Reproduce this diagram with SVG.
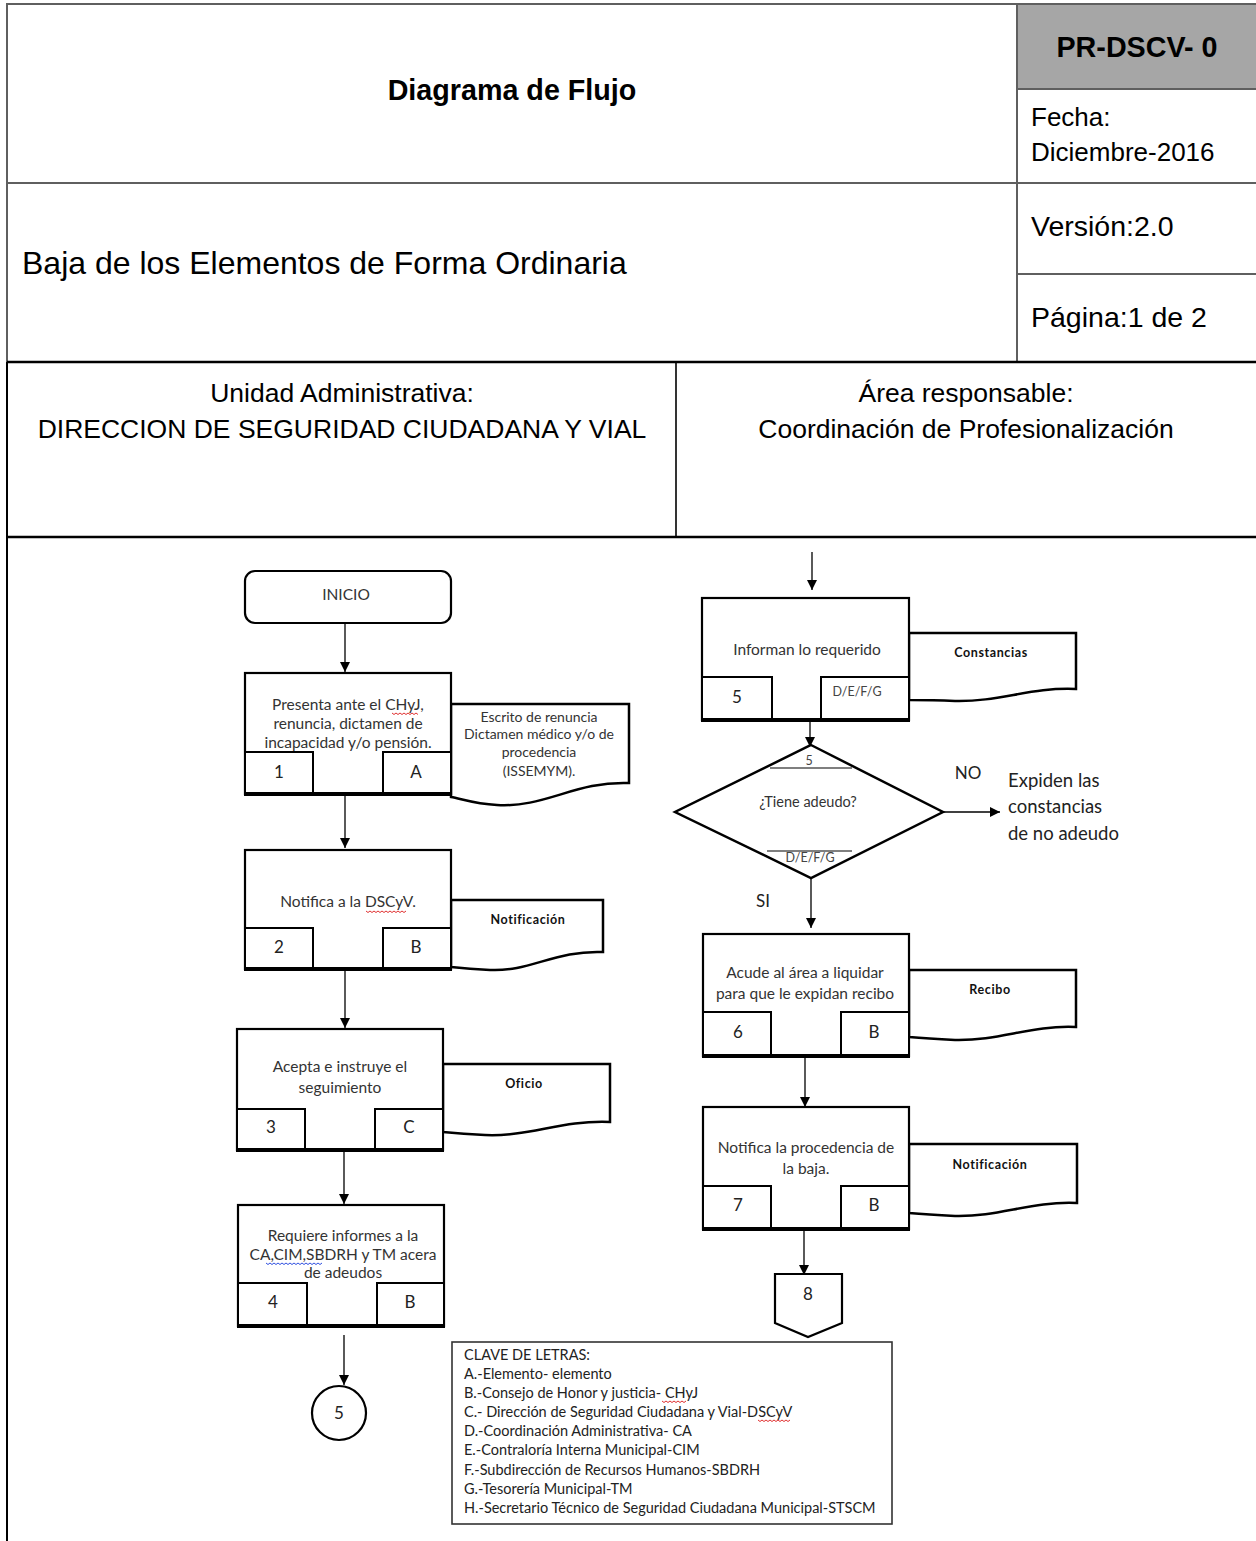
<svg xmlns="http://www.w3.org/2000/svg" width="1256" height="1541" viewBox="0 0 1256 1541">
<style>
.hg{stroke:#5f5f5f;stroke-width:2;fill:none}
.hb{stroke:#000;stroke-width:2.5;fill:none}
.ht{font-family:"Liberation Sans",Arial,sans-serif;fill:#000}
.box{fill:#fff;stroke:#000;stroke-width:2.2}
.cell{fill:#fff;stroke:#000;stroke-width:2}
.bot{stroke:#000;stroke-width:4;fill:none}
.doc{fill:#fff;stroke:#000;stroke-width:2.5}
.ft{font-family:Lato,"Open Sans",sans-serif;fill:#333;font-size:15.5px;text-anchor:middle}
.num{font-family:Lato,"Open Sans",sans-serif;fill:#222;font-size:17px;text-anchor:middle}
.dl{font-family:Lato,"Open Sans",sans-serif;fill:#111;font-size:12.5px;font-weight:bold;text-anchor:middle;letter-spacing:0.6px}
.sm{font-family:Lato,"Open Sans",sans-serif;fill:#444;font-size:12.5px;text-anchor:middle}
.lg{font-family:Lato,"Open Sans",sans-serif;fill:#222;font-size:14.5px}
.conn{stroke:#000;stroke-width:1.3;fill:none}
.sq{stroke:#e03030;stroke-width:1;fill:none}
.sqb{stroke:#3050e0;stroke-width:1;fill:none}
</style>
<defs>
<marker id="ah" markerUnits="userSpaceOnUse" markerWidth="12" markerHeight="12" refX="10" refY="5" orient="auto">
<path d="M0,0 L10,5 L0,10 Z" fill="#000"/>
</marker>
</defs>
<rect x="0" y="0" width="1256" height="1541" fill="#fff"/>

<g id="header">
<rect x="1017" y="4" width="240" height="85" fill="#a6a6a6"/>
<line class="hg" x1="6" y1="4" x2="1256" y2="4"/>
<line class="hg" x1="7" y1="4" x2="7" y2="362"/>
<line class="hg" x1="1017" y1="4" x2="1017" y2="362"/>
<line class="hg" x1="1017" y1="89" x2="1256" y2="89"/>
<line class="hg" x1="7" y1="183" x2="1256" y2="183"/>
<line class="hg" x1="1017" y1="274" x2="1256" y2="274"/>
<line class="hb" x1="7" y1="362" x2="1256" y2="362"/>
<line stroke="#000" stroke-width="1.6" x1="676" y1="362" x2="676" y2="537"/>
<line class="hb" x1="7" y1="537" x2="1256" y2="537"/>
<line stroke="#000" stroke-width="2" x1="7" y1="362" x2="7" y2="1541"/>
<text class="ht" x="512" y="100" style="font-size:28.7px;font-weight:bold" text-anchor="middle">Diagrama de Flujo</text>
<text class="ht" x="1137" y="57" style="font-size:28.7px;font-weight:bold" text-anchor="middle">PR-DSCV- 0</text>
<text class="ht" x="1031" y="126" style="font-size:26px">Fecha:</text>
<text class="ht" x="1031" y="161" style="font-size:26px">Diciembre-2016</text>
<text class="ht" x="1031" y="236" style="font-size:28.5px">Versión:2.0</text>
<text class="ht" x="1031" y="327" style="font-size:28.5px">Página:1 de 2</text>
<text class="ht" x="22" y="274" style="font-size:32px">Baja de los Elementos de Forma Ordinaria</text>
<text class="ht" x="342" y="402" style="font-size:26.5px" text-anchor="middle">Unidad Administrativa:</text>
<text class="ht" x="342" y="438" style="font-size:26.5px" text-anchor="middle">DIRECCION DE SEGURIDAD CIUDADANA Y VIAL</text>
<text class="ht" x="966" y="402" style="font-size:26.5px" text-anchor="middle">Área responsable:</text>
<text class="ht" x="966" y="438" style="font-size:26.5px" text-anchor="middle">Coordinación de Profesionalización</text>
</g>

<g id="connectors">
<line class="conn" x1="345" y1="623" x2="345" y2="672" marker-end="url(#ah)"/>
<line class="conn" x1="345" y1="795" x2="345" y2="848" marker-end="url(#ah)"/>
<line class="conn" x1="345" y1="970" x2="345" y2="1028" marker-end="url(#ah)"/>
<line class="conn" x1="344" y1="1151" x2="344" y2="1204" marker-end="url(#ah)"/>
<line class="conn" x1="344" y1="1335" x2="344" y2="1385" marker-end="url(#ah)"/>
<line class="conn" x1="812" y1="552" x2="812" y2="590" marker-end="url(#ah)"/>
<line class="conn" x1="810" y1="721" x2="810" y2="747" marker-end="url(#ah)"/>
<line class="conn" x1="943" y1="812" x2="1000" y2="812" marker-end="url(#ah)"/>
<line class="conn" x1="811" y1="878" x2="811" y2="928" marker-end="url(#ah)"/>
<line class="conn" x1="805" y1="1057" x2="805" y2="1107" marker-end="url(#ah)"/>
<line class="conn" x1="804" y1="1230" x2="804" y2="1275" marker-end="url(#ah)"/>
</g>

<g id="inicio">
<rect x="245" y="571" width="206" height="52" rx="10" fill="#fff" stroke="#000" stroke-width="2.2"/>
<text class="ft" x="346" y="600">INICIO</text>
</g>

<g id="step1">
<path class="doc" d="M451,704 H629 V783 C575,781 545,808 497,805 C475,804 462,799 451,797 Z"/>
<text class="ft" x="539" y="722" style="font-size:14px">Escrito de renuncia</text>
<text class="ft" x="539" y="739" style="font-size:14px">Dictamen médico y/o de</text>
<text class="ft" x="539" y="757" style="font-size:14px">procedencia</text>
<text class="ft" x="539" y="776" style="font-size:14px">(ISSEMYM).</text>
<rect class="box" x="245" y="673" width="206" height="121"/>
<rect class="cell" x="245" y="752" width="68" height="42"/>
<rect class="cell" x="383" y="752" width="68" height="42"/>
<line class="bot" x1="244" y1="794" x2="452" y2="794"/>
<text class="ft" x="348" y="710">Presenta ante el CHyJ,</text>
<text class="ft" x="348" y="729">renuncia, dictamen de</text>
<text class="ft" x="348" y="748">incapacidad y/o pensión.</text>
<path class="sq" d="M392,713 l2,1.5 l2,-1.5 l2,1.5 l2,-1.5 l2,1.5 l2,-1.5 l2,1.5 l2,-1.5 l2,1.5 l2,-1.5 l2,1.5 l2,-1.5 l2,1.5"/>
<text class="num" x="279" y="778">1</text>
<text class="num" x="416" y="778">A</text>
</g>

<g id="step2">
<path class="doc" d="M451,900 H603 V952 C555,950 530,972 490,970 C472,969 461,968 451,967 Z"/>
<text class="dl" x="528" y="924">Notificación</text>
<rect class="box" x="245" y="850" width="206" height="119"/>
<rect class="cell" x="245" y="928" width="68" height="41"/>
<rect class="cell" x="383" y="928" width="68" height="41"/>
<line class="bot" x1="244" y1="969" x2="452" y2="969"/>
<text class="ft" x="348" y="907">Notifica a la DSCyV.</text>
<path class="sq" d="M366,911 l2,1.5 l2,-1.5 l2,1.5 l2,-1.5 l2,1.5 l2,-1.5 l2,1.5 l2,-1.5 l2,1.5 l2,-1.5 l2,1.5 l2,-1.5 l2,1.5 l2,-1.5 l2,1.5 l2,-1.5 l2,1.5 l2,-1.5 l2,1.5 l2,-1.5"/>
<text class="num" x="279" y="953">2</text>
<text class="num" x="416" y="953">B</text>
</g>

<g id="step3">
<path class="doc" d="M443,1064 H610 V1122 C560,1120 530,1137 485,1135 C466,1134 454,1133 443,1132 Z"/>
<text class="dl" x="524" y="1088">Oficio</text>
<rect class="box" x="237" y="1029" width="206" height="121"/>
<rect class="cell" x="237" y="1109" width="68" height="41"/>
<rect class="cell" x="375" y="1109" width="68" height="41"/>
<line class="bot" x1="236" y1="1150" x2="444" y2="1150"/>
<text class="ft" x="340" y="1072">Acepta e instruye el</text>
<text class="ft" x="340" y="1093">seguimiento</text>
<text class="num" x="271" y="1133">3</text>
<text class="num" x="409" y="1133">C</text>
</g>

<g id="step4">
<rect class="box" x="238" y="1205" width="206" height="121"/>
<rect class="cell" x="238" y="1283" width="69" height="43"/>
<rect class="cell" x="377" y="1283" width="67" height="43"/>
<line class="bot" x1="237" y1="1326" x2="445" y2="1326"/>
<text class="ft" x="343" y="1241">Requiere informes a la</text>
<text class="ft" x="343" y="1260">CA,CIM,SBDRH y TM acera</text>
<text class="ft" x="343" y="1278">de adeudos</text>
<path class="sqb" d="M266,1263 l2,1.5 l2,-1.5 l2,1.5 l2,-1.5 l2,1.5 l2,-1.5 l2,1.5 l2,-1.5 l2,1.5 l2,-1.5 l2,1.5 l2,-1.5 l2,1.5 l2,-1.5 l2,1.5 l2,-1.5 l2,1.5 l2,-1.5 l2,1.5 l2,-1.5 l2,1.5 l2,-1.5 l2,1.5 l2,-1.5 l2,1.5 l2,-1.5 l2,1.5 l2,-1.5"/>
<text class="num" x="273" y="1308">4</text>
<text class="num" x="410" y="1308">B</text>
</g>

<g id="connector5">
<circle cx="339" cy="1413" r="27" fill="#fff" stroke="#000" stroke-width="2.2"/>
<text class="num" x="339" y="1419">5</text>
</g>

<g id="step5">
<path class="doc" d="M909,633 H1076 V689 C1030,687 1000,702 955,701 C934,700 920,700 909,700 Z"/>
<text class="dl" x="991" y="657">Constancias</text>
<rect class="box" x="702" y="598" width="207" height="122"/>
<rect class="cell" x="702" y="677" width="70" height="43"/>
<rect class="cell" x="821" y="677" width="88" height="43"/>
<line class="bot" x1="701" y1="720" x2="910" y2="720"/>
<text class="ft" x="807" y="655">Informan lo requerido</text>
<text class="num" x="737" y="703">5</text>
<text class="sm" x="857" y="696">D/E/F/G</text>
</g>

<g id="decision">
<polygon points="811,745 943,812 811,878 675,812" fill="#fff" stroke="#000" stroke-width="2.5"/>
<line stroke="#000" stroke-width="1.2" x1="770" y1="768" x2="852" y2="768"/>
<line stroke="#000" stroke-width="1.2" x1="767" y1="851" x2="852" y2="851"/>
<text class="sm" x="809" y="765">5</text>
<text class="ft" x="808" y="807" style="font-size:14.5px">¿Tiene adeudo?</text>
<text class="sm" x="810" y="862">D/E/F/G</text>
</g>

<g id="labels">
<text class="ft" x="968" y="779" style="font-size:17px;fill:#222">NO</text>
<text class="ft" x="763" y="907" style="font-size:17px;fill:#222">SI</text>
<text class="lg" x="1008" y="787" style="font-size:18.5px">Expiden las</text>
<text class="lg" x="1008" y="813" style="font-size:18.5px">constancias</text>
<text class="lg" x="1008" y="840" style="font-size:18.5px">de no adeudo</text>
</g>

<g id="step6">
<path class="doc" d="M909,970 H1076 V1027 C1030,1025 1000,1041 955,1040 C934,1039 920,1038 909,1037 Z"/>
<text class="dl" x="990" y="994">Recibo</text>
<rect class="box" x="703" y="934" width="206" height="122"/>
<rect class="cell" x="703" y="1012" width="68" height="44"/>
<rect class="cell" x="841" y="1012" width="68" height="44"/>
<line class="bot" x1="702" y1="1056" x2="910" y2="1056"/>
<text class="ft" x="805" y="978">Acude al área a liquidar</text>
<text class="ft" x="805" y="999">para que le expidan recibo</text>
<text class="num" x="738" y="1038">6</text>
<text class="num" x="874" y="1038">B</text>
</g>

<g id="step7">
<path class="doc" d="M909,1144 H1077 V1203 C1030,1201 1000,1217 955,1216 C934,1215 920,1214 909,1213 Z"/>
<text class="dl" x="990" y="1169">Notificación</text>
<rect class="box" x="703" y="1107" width="206" height="122"/>
<rect class="cell" x="703" y="1186" width="68" height="43"/>
<rect class="cell" x="841" y="1186" width="68" height="43"/>
<line class="bot" x1="702" y1="1229" x2="910" y2="1229"/>
<text class="ft" x="806" y="1153">Notifica  la procedencia de</text>
<text class="ft" x="806" y="1174">la baja.</text>
<text class="num" x="738" y="1211">7</text>
<text class="num" x="874" y="1211">B</text>
</g>

<g id="offpage8">
<polygon points="775,1274 842,1274 842,1323 808,1337 775,1323" fill="#fff" stroke="#000" stroke-width="2.2"/>
<text class="num" x="808" y="1300">8</text>
</g>

<g id="legend">
<rect x="452" y="1342" width="440" height="182" fill="#fff" stroke="#333" stroke-width="1.6"/>
<text class="lg" x="464" y="1360">CLAVE DE LETRAS:</text>
<text class="lg" x="464" y="1379">A.-Elemento- elemento</text>
<text class="lg" x="464" y="1398">B.-Consejo de Honor y justicia- CHyJ</text>
<text class="lg" x="464" y="1417">C.- Dirección de Seguridad Ciudadana y Vial-DSCyV</text>
<text class="lg" x="464" y="1436">D.-Coordinación Administrativa- CA</text>
<text class="lg" x="464" y="1455">E.-Contraloría Interna Municipal-CIM</text>
<text class="lg" x="464" y="1475">F.-Subdirección de Recursos Humanos-SBDRH</text>
<text class="lg" x="464" y="1494">G.-Tesorería Municipal-TM</text>
<text class="lg" x="464" y="1513">H.-Secretario Técnico de Seguridad Ciudadana Municipal-STSCM</text>
<path class="sq" d="M662,1401 l2,1.5 l2,-1.5 l2,1.5 l2,-1.5 l2,1.5 l2,-1.5 l2,1.5 l2,-1.5 l2,1.5 l2,-1.5 l2,1.5 l2,-1.5"/>
<path class="sq" d="M758,1420 l2,1.5 l2,-1.5 l2,1.5 l2,-1.5 l2,1.5 l2,-1.5 l2,1.5 l2,-1.5 l2,1.5 l2,-1.5 l2,1.5 l2,-1.5 l2,1.5 l2,-1.5 l2,1.5 l2,-1.5"/>
</g>
</svg>
